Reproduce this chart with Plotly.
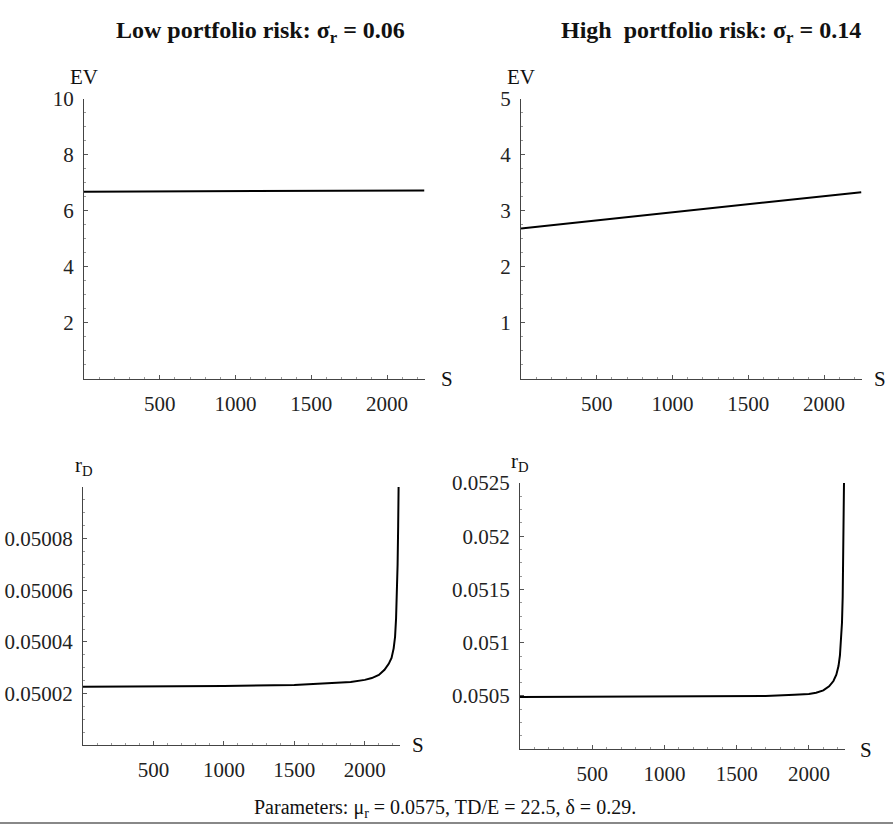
import plotly.graph_objects as go

# ---- data -------------------------------------------------------------
S_line = [0, 500, 1000, 1500, 2000, 2245]
ev_low = [6.68, 6.689, 6.698, 6.707, 6.716, 6.72]
ev_high = [2.68, 2.825, 2.97, 3.115, 3.26, 3.33]

S_low = [0, 500, 1000, 1500, 1800, 1900, 2000, 2050, 2100, 2140, 2170, 2190,
         2205, 2215, 2222, 2228, 2233, 2237, 2240]
rd_low = [0.0500226, 0.0500227, 0.0500229, 0.0500233, 0.0500240, 0.0500245,
          0.0500253, 0.0500260, 0.0500272, 0.0500292, 0.0500315, 0.0500338,
          0.0500375, 0.0500420, 0.0500490, 0.0500580, 0.0500700, 0.0500850, 0.0501]

S_high = [0, 500, 1000, 1500, 1700, 1900, 2000, 2050, 2100, 2140, 2170, 2190,
          2205, 2215, 2223, 2229, 2234, 2238, 2241, 2243]
rd_high = [0.050490, 0.050491, 0.050493, 0.050497, 0.050500, 0.050510,
           0.050518, 0.050530, 0.050552, 0.050590, 0.050640, 0.050700,
           0.050780, 0.050880, 0.051020, 0.051185, 0.051430, 0.051800, 0.052150, 0.0525]

ev_low_ticks = [2, 4, 6, 8, 10]
ev_high_ticks = [1, 2, 3, 4, 5]
s_ticks = [500, 1000, 1500, 2000]
rd_low_ticks = [0.05002, 0.05004, 0.05006, 0.05008]
rd_low_text = ["0.05002", "0.05004", "0.05006", "0.05008"]
rd_high_ticks = [0.0505, 0.051, 0.0515, 0.052, 0.0525]
rd_high_text = ["0.0505", "0.051", "0.0515", "0.052", "0.0525"]

W, H = 893, 826
FONT = "Liberation Serif, Times New Roman, serif"


def fx(p):
    return p / W


def fy(p):
    return 1 - p / H


fig = go.Figure()
line_style = dict(color="black", width=2)
fig.add_trace(go.Scatter(x=S_line, y=ev_low, mode="lines", line=line_style, xaxis="x", yaxis="y"))
fig.add_trace(go.Scatter(x=S_line, y=ev_high, mode="lines", line=line_style, xaxis="x2", yaxis="y2"))
fig.add_trace(go.Scatter(x=S_low, y=rd_low, mode="lines", line=line_style, xaxis="x3", yaxis="y3"))
fig.add_trace(go.Scatter(x=S_high, y=rd_high, mode="lines", line=line_style, xaxis="x4", yaxis="y4"))

axis_common = dict(
    showline=True, linecolor="#444", linewidth=1, mirror=False,
    showgrid=False, zeroline=False, ticks="inside", ticklen=4, tickwidth=1,
    tickcolor="#555", tickfont=dict(family=FONT, size=21, color="#222"),
)
minor_x = dict(ticks="inside", ticklen=2, tickcolor="#999", dtick=100, showgrid=False)


def xax(x0, x1, anchor):
    return dict(axis_common, domain=[fx(x0), fx(x1)], range=[0, 2250], anchor=anchor,
                tickvals=s_ticks, ticklabelstandoff=6, minor=minor_x)


def yax(y0, y1, rng, vals, anchor, text=None, minor_dtick=None):
    d = dict(axis_common, domain=[fy(y1), fy(y0)], range=rng, anchor=anchor,
             tickvals=vals, ticklabelstandoff=5)
    if text is not None:
        d["ticktext"] = text
    if minor_dtick is not None:
        d["minor"] = dict(ticks="inside", ticklen=2, tickcolor="#999", dtick=minor_dtick, showgrid=False)
    return d


fig.update_layout(
    width=W, height=H, margin=dict(l=0, r=0, t=0, b=0),
    paper_bgcolor="white", plot_bgcolor="white", showlegend=False,
    xaxis=xax(84, 425, "y"),
    yaxis=yax(88, 372, [0, 10], ev_low_ticks, "x", minor_dtick=0.5),
    xaxis2=xax(521, 862, "y2"),
    yaxis2=yax(88, 372, [0, 5], ev_high_ticks, "x2", minor_dtick=0.25),
    xaxis3=xax(83, 400, "y3"),
    yaxis3=yax(482, 744, [0.05, 0.0501], rd_low_ticks, "x3", rd_low_text, minor_dtick=0.000005),
    xaxis4=xax(520, 845, "y4"),
    yaxis4=yax(478, 748, [0.05, 0.0525], rd_high_ticks, "x4", rd_high_text, minor_dtick=0.000125),
)

ann = []


def label(text, x, y, size=21, bold=False, xanchor="center"):
    t = f"<b>{text}</b>" if bold else text
    ann.append(dict(text=t, x=fx(x), y=fy(y), xref="paper", yref="paper",
                    xanchor=xanchor, yanchor="middle", showarrow=False,
                    font=dict(family=FONT, size=size, color="#111")))


label("Low portfolio risk: σ<sub>r</sub> = 0.06", 260, 20, size=24, bold=True)
label("High\u00a0 portfolio risk: σ<sub>r</sub> = 0.14", 711, 20, size=24, bold=True)
label("EV", 84, 66)
label("EV", 521, 66)
label("S", 447, 372)
label("S", 880, 372)
label("r<sub>D</sub>", 84, 461)
label("r<sub>D</sub>", 520, 457)
label("S", 418, 744)
label("S", 866, 749)
label("Parameters: μ<sub>r</sub> = 0.0575, TD/E = 22.5, δ = 0.29.", 445, 808, size=20)

fig.update_layout(annotations=ann)
fig.add_shape(type="line", xref="paper", yref="paper", x0=0, x1=1, y0=fy(823), y1=fy(823),
              line=dict(color="#888", width=2))

fig.write_html("out.html")
